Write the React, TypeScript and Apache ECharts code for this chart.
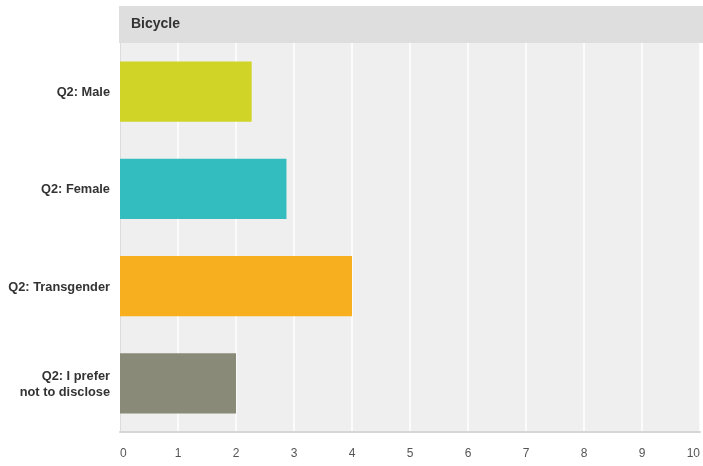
import React, { useEffect, useRef } from "react";
import * as echarts from "echarts";

const categories = ["Q2: Male", "Q2: Female", "Q2: Transgender", "Q2: I prefer\nnot to disclose"];
const values = [2.27, 2.87, 4.0, 2.0];
const colors = ["#d0d426", "#34bdbe", "#f7ae1f", "#8a8a79"];
const title = "Bicycle";
const xMin = 0;
const xMax = 10;
const xInterval = 1;

export default function App() {
  const ref = useRef<HTMLDivElement>(null);
  useEffect(() => {
    if (!ref.current) return;
    const chart = echarts.init(ref.current, undefined, { renderer: "svg" });
    const font = "'Liberation Sans', Arial, Helvetica, sans-serif";
    chart.setOption({
      animation: false,
      textStyle: { fontFamily: font },
      graphic: [
        {
          type: "rect",
          shape: { x: 119, y: 6, width: 584, height: 37 },
          style: { fill: "#dedede" },
          z: 0,
        },
        {
          type: "text",
          x: 131,
          y: 23,
          style: {
            text: title,
            fontFamily: font,
            fontSize: 14,
            fontWeight: "bold",
            fill: "#333333",
            verticalAlign: "middle",
          },
          z: 1,
        },
      ],
      grid: {
        left: 120,
        right: 1,
        top: 43,
        bottom: 34,
        show: true,
        backgroundColor: "#efefef",
        borderWidth: 0,
      },
      xAxis: {
        type: "value",
        min: xMin,
        max: xMax,
        interval: xInterval,
        axisLine: { show: true, lineStyle: { color: "#d6d6d6", width: 2 } },
        axisTick: { show: false },
        splitLine: { show: true, lineStyle: { color: "#ffffff", width: 1.5 } },
        axisLabel: {
          color: "#555555",
          fontSize: 12,
          margin: 15,
          fontFamily: font,
          alignMinLabel: "left",
          alignMaxLabel: "right",
        },
      },
      yAxis: {
        type: "category",
        data: categories,
        inverse: true,
        axisLine: { show: true, lineStyle: { color: "#dcdcdc", width: 1 } },
        axisTick: { show: false },
        splitLine: { show: false },
        axisLabel: {
          color: "#333333",
          fontSize: 12.8,
          fontWeight: "bold",
          margin: 10,
          lineHeight: 16,
          fontFamily: font,
        },
      },
      series: [
        {
          type: "bar",
          data: values.map((v, i) => ({ value: v, itemStyle: { color: colors[i] } })),
          barWidth: "62%",
          silent: true,
        },
      ],
    });
    return () => chart.dispose();
  }, []);
  return (
    <div
      ref={ref}
      style={{ position: "fixed", left: 0, top: 0, width: 703, height: 466 }}
    />
  );
}
